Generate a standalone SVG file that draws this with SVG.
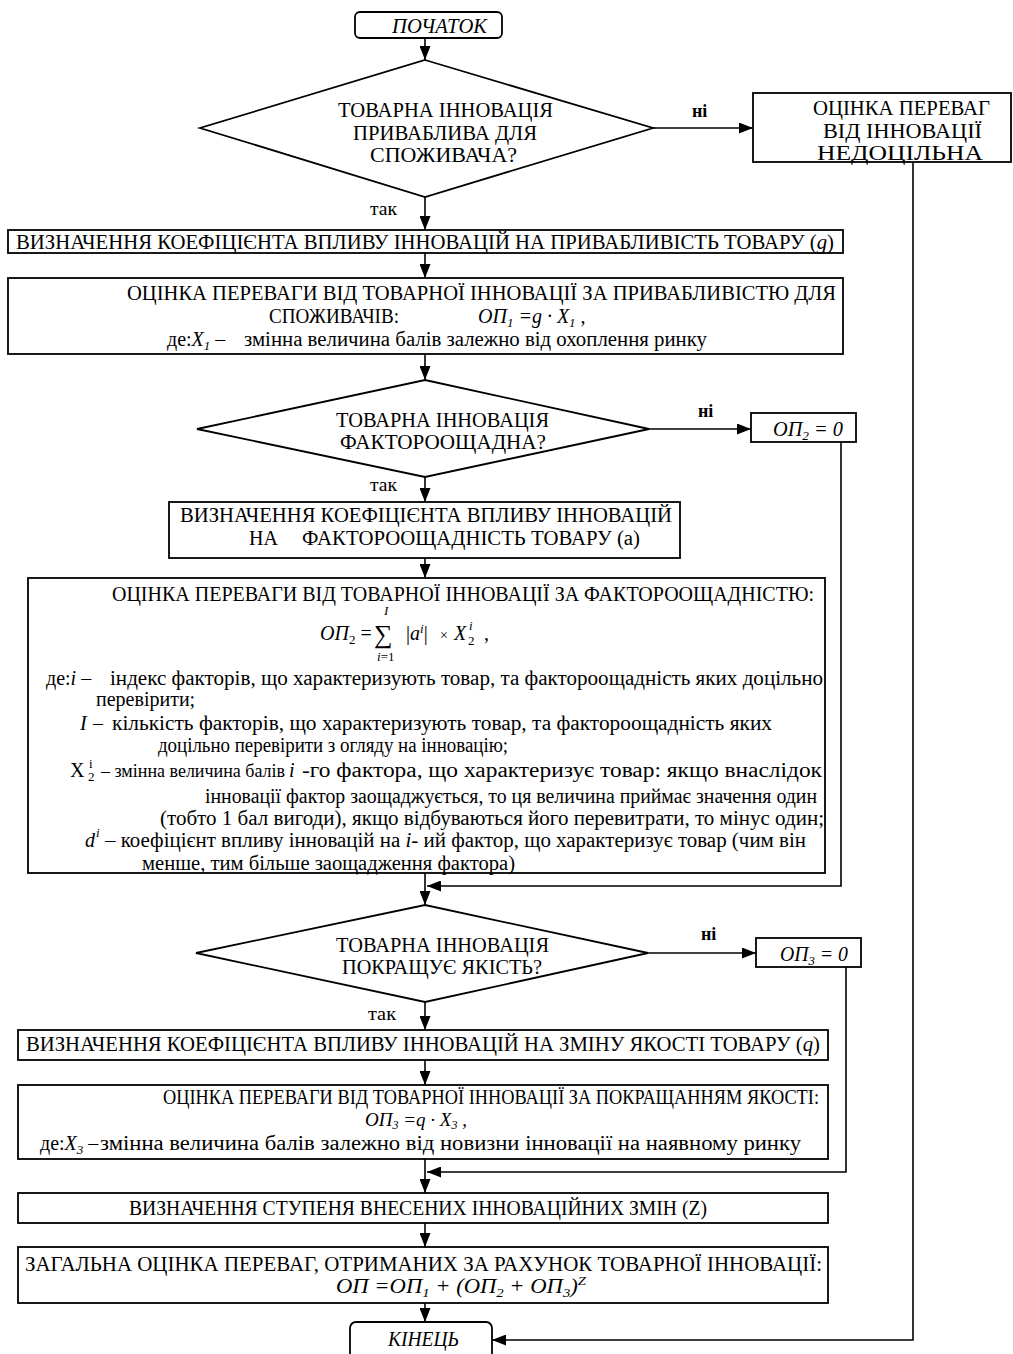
<svg xmlns="http://www.w3.org/2000/svg" width="1013" height="1354" viewBox="0 0 1013 1354">
<style>
.t{font-family:"Liberation Serif","Times New Roman",serif;font-size:20px;fill:#000}
.i{font-style:italic}
.s{font-size:13px}
.box{fill:#fff;stroke:#000;stroke-width:1.8}
.ln{fill:none;stroke:#000;stroke-width:1.6}
.lb{font-family:"Liberation Serif","Times New Roman",serif;font-size:18px;fill:#000}
</style>
<defs>
<marker id="ah" viewBox="0 0 14 11" refX="14" refY="5.5" markerWidth="14" markerHeight="11" markerUnits="userSpaceOnUse" orient="auto">
<path d="M0,0 L14,5.5 L0,11 z" fill="#000"/>
</marker>
</defs>
<rect width="1013" height="1354" fill="#fff"/>

<g id="connectors">
<path class="ln" marker-end="url(#ah)" d="M425,38 V60"/>
<path class="ln" marker-end="url(#ah)" d="M653,128 H753"/>
<path class="ln" marker-end="url(#ah)" d="M425,197 V230"/>
<path class="ln" marker-end="url(#ah)" d="M425,253 V278"/>
<path class="ln" marker-end="url(#ah)" d="M425,354 V380"/>
<path class="ln" marker-end="url(#ah)" d="M649,429 H751"/>
<path class="ln" marker-end="url(#ah)" d="M425,477 V502"/>
<path class="ln" marker-end="url(#ah)" d="M425,558 V578"/>
<path class="ln" marker-end="url(#ah)" d="M425,873 V905"/>
<path class="ln" marker-end="url(#ah)" d="M841,442 V886 H427"/>
<path class="ln" marker-end="url(#ah)" d="M648,953 H756"/>
<path class="ln" marker-end="url(#ah)" d="M425,1002 V1030"/>
<path class="ln" marker-end="url(#ah)" d="M425,1060 V1085"/>
<path class="ln" marker-end="url(#ah)" d="M425,1159 V1193"/>
<path class="ln" marker-end="url(#ah)" d="M846,967 V1172 H427"/>
<path class="ln" marker-end="url(#ah)" d="M425,1223 V1247"/>
<path class="ln" marker-end="url(#ah)" d="M425,1303 V1322"/>
<path class="ln" marker-end="url(#ah)" d="M913,162 V1340 H492"/>
<text class="lb" x="692" y="117" font-weight="bold">ні</text>
<text class="lb" x="370" y="215" textLength="27" lengthAdjust="spacingAndGlyphs">так</text>
<text class="lb" x="698" y="417" font-weight="bold">ні</text>
<text class="lb" x="370" y="491" textLength="27" lengthAdjust="spacingAndGlyphs">так</text>
<text class="lb" x="701" y="940" font-weight="bold">ні</text>
<text class="lb" x="368" y="1020" textLength="28" lengthAdjust="spacingAndGlyphs">так</text>
</g>

<g id="start">
<rect class="box" x="355" y="12" width="147" height="26" rx="5"/>
<text class="t i" x="392" y="33" textLength="95" lengthAdjust="spacingAndGlyphs">ПОЧАТОК</text>
</g>

<g id="decision1">
<polygon class="box" points="425,60 653,128 425,197 200,128"/>
<text class="t" x="338" y="117" textLength="215" lengthAdjust="spacingAndGlyphs">ТОВАРНА ІННОВАЦІЯ</text>
<text class="t" x="353" y="140" textLength="184" lengthAdjust="spacingAndGlyphs">ПРИВАБЛИВА ДЛЯ</text>
<text class="t" x="370" y="162" textLength="147" lengthAdjust="spacingAndGlyphs">СПОЖИВАЧА?</text>
</g>

<g id="not-feasible">
<rect class="box" x="753" y="93" width="258" height="69"/>
<text class="t" x="813" y="115" textLength="177" lengthAdjust="spacingAndGlyphs">ОЦІНКА ПЕРЕВАГ</text>
<text class="t" x="823" y="138" textLength="159" lengthAdjust="spacingAndGlyphs">ВІД ІННОВАЦІЇ</text>
<text class="t" x="817" y="160" textLength="166" lengthAdjust="spacingAndGlyphs">НЕДОЦІЛЬНА</text>
</g>

<g id="coef-g">
<rect class="box" x="8" y="230" width="835" height="23"/>
<text class="t" x="16" y="249" textLength="818" lengthAdjust="spacingAndGlyphs">ВИЗНАЧЕННЯ КОЕФІЦІЄНТА ВПЛИВУ ІННОВАЦІЙ НА ПРИВАБЛИВІСТЬ ТОВАРУ (<tspan class="i">g</tspan>)</text>
</g>

<g id="eval-1">
<rect class="box" x="8" y="278" width="835" height="76"/>
<text class="t" x="127" y="300" textLength="709" lengthAdjust="spacingAndGlyphs">ОЦІНКА ПЕРЕВАГИ ВІД ТОВАРНОЇ ІННОВАЦІЇ ЗА ПРИВАБЛИВІСТЮ ДЛЯ</text>
<text class="t" x="269" y="323" textLength="130" lengthAdjust="spacingAndGlyphs">СПОЖИВАЧІВ:</text>
<text class="t i" x="478" y="323">ОП<tspan class="s" dy="4">1</tspan><tspan dy="-4"> =g · X</tspan><tspan class="s" dy="4">1</tspan><tspan dy="-4"> ,</tspan></text>
<text class="t" x="167" y="346">де:<tspan class="i">X</tspan><tspan class="s i" dy="4">1</tspan><tspan dy="-4"> –</tspan></text>
<text class="t" x="244" y="346" textLength="463" lengthAdjust="spacingAndGlyphs">змінна величина балів залежно від охоплення ринку</text>
</g>

<g id="decision2">
<polygon class="box" points="425,380 649,429 425,477 197,429"/>
<text class="t" x="336" y="427" textLength="213" lengthAdjust="spacingAndGlyphs">ТОВАРНА ІННОВАЦІЯ</text>
<text class="t" x="340" y="449" textLength="206" lengthAdjust="spacingAndGlyphs">ФАКТОРООЩАДНА?</text>
</g>

<g id="op2-zero">
<rect class="box" x="751" y="413" width="105" height="29"/>
<text class="t i" x="773" y="436" textLength="70" lengthAdjust="spacingAndGlyphs">ОП<tspan class="s" dy="4">2</tspan><tspan dy="-4"> = 0</tspan></text>
</g>

<g id="coef-a">
<rect class="box" x="169" y="502" width="511" height="56"/>
<text class="t" x="180" y="522" textLength="492" lengthAdjust="spacingAndGlyphs">ВИЗНАЧЕННЯ КОЕФІЦІЄНТА ВПЛИВУ ІННОВАЦІЙ</text>
<text class="t" x="249" y="545">НА</text>
<text class="t" x="302" y="545" textLength="338" lengthAdjust="spacingAndGlyphs">ФАКТОРООЩАДНІСТЬ ТОВАРУ (а)</text>
</g>

<g id="eval-2">
<rect class="box" x="28" y="578" width="797" height="295"/>
<text class="t" x="112" y="601" textLength="702" lengthAdjust="spacingAndGlyphs">ОЦІНКА ПЕРЕВАГИ ВІД ТОВАРНОЇ ІННОВАЦІЇ ЗА ФАКТОРООЩАДНІСТЮ:</text>
<text class="t i" x="320" y="640">ОП<tspan class="s" font-style="normal" dy="4">2</tspan><tspan font-style="normal" dy="-4"> =</tspan></text>
<text class="t" x="374" y="643" style="font-size:26px">∑</text>
<text class="t i s" x="384" y="615">I</text>
<text class="t s" x="377" y="661"><tspan class="i">i</tspan>=1</text>
<text class="t" x="406" y="640">|<tspan class="i">a</tspan><tspan class="s i" dy="-7">i</tspan><tspan dy="7">|</tspan></text>
<text class="t" x="440" y="640" style="font-size:14px">×</text>
<text class="t i" x="454" y="640">X</text>
<text class="t s" x="468" y="645">2</text>
<text class="t s i" x="469" y="630">i</text>
<text class="t" x="484" y="640">,</text>
<text class="t" x="46" y="685">де:<tspan class="i">i</tspan><tspan> –</tspan></text>
<text class="t" x="110" y="685" textLength="713" lengthAdjust="spacingAndGlyphs">індекс факторів, що характеризують товар, та фактороощадність яких доцільно</text>
<text class="t" x="96" y="706">перевірити;</text>
<text class="t i" x="80" y="730">I</text>
<text class="t" x="93" y="730">–</text>
<text class="t" x="112" y="730" textLength="660" lengthAdjust="spacingAndGlyphs">кількість факторів, що характеризують товар, та фактороощадність яких</text>
<text class="t" x="158" y="752" textLength="350" lengthAdjust="spacingAndGlyphs">доцільно перевірити з огляду на інновацію;</text>
<text class="t" x="70" y="777">X</text>
<text class="t s" x="88" y="781">2</text>
<text class="t s" x="89" y="768">i</text>
<text class="t" x="101" y="777" style="font-size:18px">– змінна величина балів</text>
<text class="t i" x="289" y="777">i</text>
<text class="t" x="302" y="777" textLength="520" lengthAdjust="spacingAndGlyphs">-го фактора, що характеризує товар: якщо внаслідок</text>
<text class="t" x="205" y="803" textLength="612" lengthAdjust="spacingAndGlyphs">інновації фактор заощаджується, то ця величина приймає значення один</text>
<text class="t" x="160" y="825" textLength="664" lengthAdjust="spacingAndGlyphs">(тобто 1 бал вигоди), якщо відбуваються його перевитрати, то мінус один;</text>
<text class="t i" x="85" y="847">d</text>
<text class="t s i" x="96" y="837">i</text>
<text class="t" x="105" y="847" textLength="701" lengthAdjust="spacingAndGlyphs">– коефіцієнт впливу інновацій на <tspan class="i">i</tspan>- ий фактор, що характеризує товар (чим він</text>
<text class="t" x="142" y="870" textLength="373" lengthAdjust="spacingAndGlyphs">менше, тим більше заощадження фактора)</text>
</g>

<g id="decision3">
<polygon class="box" points="425,905 648,953 425,1002 196,953"/>
<text class="t" x="336" y="952" textLength="213" lengthAdjust="spacingAndGlyphs">ТОВАРНА ІННОВАЦІЯ</text>
<text class="t" x="342" y="974" textLength="200" lengthAdjust="spacingAndGlyphs">ПОКРАЩУЄ ЯКІСТЬ?</text>
</g>

<g id="op3-zero">
<rect class="box" x="756" y="938" width="105" height="29"/>
<text class="t i" x="780" y="961" textLength="68" lengthAdjust="spacingAndGlyphs">ОП<tspan class="s" dy="4">3</tspan><tspan dy="-4"> = 0</tspan></text>
</g>

<g id="coef-q">
<rect class="box" x="18" y="1030" width="810" height="30"/>
<text class="t" x="26" y="1051" textLength="794" lengthAdjust="spacingAndGlyphs">ВИЗНАЧЕННЯ КОЕФІЦІЄНТА ВПЛИВУ ІННОВАЦІЙ НА ЗМІНУ ЯКОСТІ ТОВАРУ (<tspan class="i">q</tspan>)</text>
</g>

<g id="eval-3">
<rect class="box" x="18" y="1085" width="810" height="74"/>
<text class="t" x="163" y="1104" textLength="656" lengthAdjust="spacingAndGlyphs">ОЦІНКА ПЕРЕВАГИ ВІД ТОВАРНОЇ ІННОВАЦІЇ ЗА ПОКРАЩАННЯМ ЯКОСТІ:</text>
<text class="t i" x="365" y="1126" style="font-size:19px">ОП<tspan style="font-size:12px" dy="3">3</tspan><tspan dy="-3"> =q · X</tspan><tspan style="font-size:12px" dy="3">3</tspan><tspan dy="-3"> ,</tspan></text>
<text class="t" x="40" y="1150">де:<tspan class="i">X</tspan><tspan class="s i" dy="4">3</tspan><tspan dy="-4"> –</tspan></text>
<text class="t" x="100" y="1150" textLength="701" lengthAdjust="spacingAndGlyphs">змінна величина балів залежно від новизни інновації на наявному ринку</text>
</g>

<g id="degree-z">
<rect class="box" x="18" y="1193" width="810" height="30"/>
<text class="t" x="129" y="1215" textLength="578" lengthAdjust="spacingAndGlyphs">ВИЗНАЧЕННЯ СТУПЕНЯ ВНЕСЕНИХ ІННОВАЦІЙНИХ ЗМІН (Z)</text>
</g>

<g id="total">
<rect class="box" x="18" y="1247" width="810" height="56"/>
<text class="t" x="25" y="1271" textLength="797" lengthAdjust="spacingAndGlyphs">ЗАГАЛЬНА ОЦІНКА ПЕРЕВАГ, ОТРИМАНИХ ЗА РАХУНОК ТОВАРНОЇ ІННОВАЦІЇ:</text>
<text class="t i" x="336" y="1293" textLength="250" lengthAdjust="spacingAndGlyphs">ОП =ОП<tspan class="s" dy="4">1</tspan><tspan dy="-4"> + (ОП</tspan><tspan class="s" dy="4">2</tspan><tspan dy="-4"> + ОП</tspan><tspan class="s" dy="4">3</tspan><tspan dy="-4">)</tspan><tspan class="s" dy="-8">Z</tspan></text>
</g>

<g id="end">
<rect class="box" x="350" y="1322" width="142" height="40" rx="6"/>
<text class="t i" x="388" y="1346" textLength="71" lengthAdjust="spacingAndGlyphs">КІНЕЦЬ</text>
</g>
</svg>
